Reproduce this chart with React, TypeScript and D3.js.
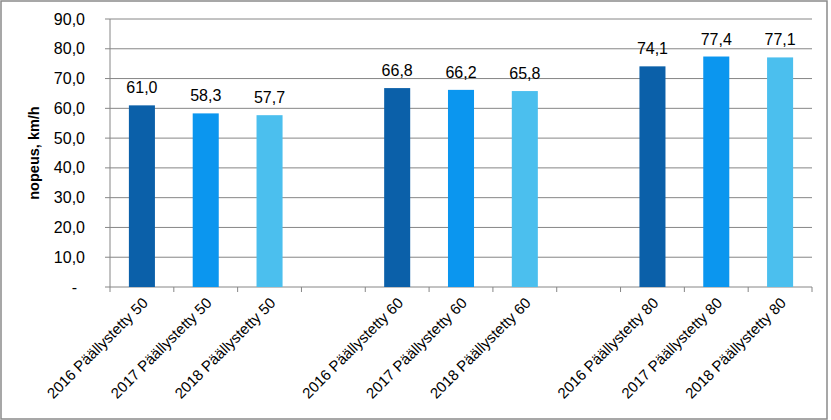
import * as d3 from "d3";

const categories = [
  "2016 Päällystetty 50",
  "2017 Päällystetty 50",
  "2018 Päällystetty 50",
  "",
  "2016 Päällystetty 60",
  "2017 Päällystetty 60",
  "2018 Päällystetty 60",
  "",
  "2016 Päällystetty 80",
  "2017 Päällystetty 80",
  "2018 Päällystetty 80",
];
const speeds = [61.0, 58.3, 57.7, null, 66.8, 66.2, 65.8, null, 74.1, 77.4, 77.1];
const years = ["2016", "2017", "2018", "", "2016", "2017", "2018", "", "2016", "2017", "2018"];
const yTicks = [0, 10, 20, 30, 40, 50, 60, 70, 80, 90];
const yTitle = "nopeus, km/h";

const yearColors: Record<string, string> = {
  "2016": "#0b60a9",
  "2017": "#0b96ef",
  "2018": "#4bbfee",
};

export default function App() {
  const width = 831;
  const height = 420;
  const marginLeft = 110;
  const marginRight = 19;
  const marginTop = 19;
  const baseline = 287;
  const font = "'Liberation Sans', Arial, sans-serif";
  const grid = "#868686";

  const idx = categories.map((_, i) => i);

  const xScale = d3
    .scaleBand<number>()
    .domain(idx)
    .range([marginLeft, width - marginRight])
    .paddingInner(0.592)
    .paddingOuter(0.296);

  const step = xScale.step();

  const yScale = d3.scaleLinear().domain([0, 90]).range([baseline, marginTop]);

  const fmt = (v: number) => (v === 0 ? "-" : d3.format(".1f")(v).replace(".", ","));

  return (
    <div style={{ position: "absolute", left: 0, top: 0 }}>
      <svg width={width} height={height} style={{ display: "block" }}>
        <rect x={0} y={0} width={width} height={height} fill="white" />
        <rect
          x={1}
          y={1}
          width={826}
          height={418}
          fill="none"
          stroke="#8a8a8a"
          strokeWidth={1.5}
        />

        {/* gridlines + y labels */}
        <g>
          {yTicks.map((t) => (
            <g key={t}>
              <line
                x1={marginLeft - 5}
                x2={width - marginRight}
                y1={yScale(t)}
                y2={yScale(t)}
                stroke={grid}
                strokeWidth={1}
              />
              <text
                x={t === 0 ? 77 : 85}
                y={yScale(t)}
                textAnchor="end"
                dominantBaseline="central"
                fontFamily={font}
                fontSize={16}
                fill="#000"
              >
                {fmt(t)}
              </text>
            </g>
          ))}
        </g>

        {/* y axis line */}
        <line x1={marginLeft} x2={marginLeft} y1={marginTop} y2={baseline} stroke={grid} />

        {/* x tick marks at slot boundaries */}
        {d3.range(categories.length + 1).map((i) => {
          const x = marginLeft + i * step;
          return <line key={i} x1={x} x2={x} y1={baseline} y2={baseline + 5} stroke={grid} />;
        })}

        {/* bars */}
        {speeds.map((v, i) =>
          v == null ? null : (
            <g key={i}>
              <rect
                x={xScale(i)}
                y={yScale(v)}
                width={xScale.bandwidth()}
                height={baseline - yScale(v)}
                fill={yearColors[years[i]]}
              />
              <text
                x={(xScale(i) as number) + xScale.bandwidth() / 2}
                y={yScale(v) - 12}
                textAnchor="middle"
                fontFamily={font}
                fontSize={16}
                fill="#000"
              >
                {fmt(v)}
              </text>
            </g>
          )
        )}

        {/* x labels */}
        {categories.map((c, i) => {
          if (!c) return null;
          const cx = (xScale(i) as number) + xScale.bandwidth() / 2 + 3;
          const cy = 300;
          return (
            <text
              key={i}
              transform={`translate(${cx},${cy}) rotate(-45)`}
              textAnchor="end"
              dominantBaseline="central"
              fontFamily={font}
              fontSize={15}
              fill="#000"
            >
              {c}
            </text>
          );
        })}

        {/* y title */}
        <text
          transform={`translate(34,${(marginTop + baseline) / 2}) rotate(-90)`}
          textAnchor="middle"
          dominantBaseline="central"
          fontFamily={font}
          fontSize={14.5}
          fontWeight="bold"
          fill="#000"
        >
          {yTitle}
        </text>
      </svg>
    </div>
  );
}
